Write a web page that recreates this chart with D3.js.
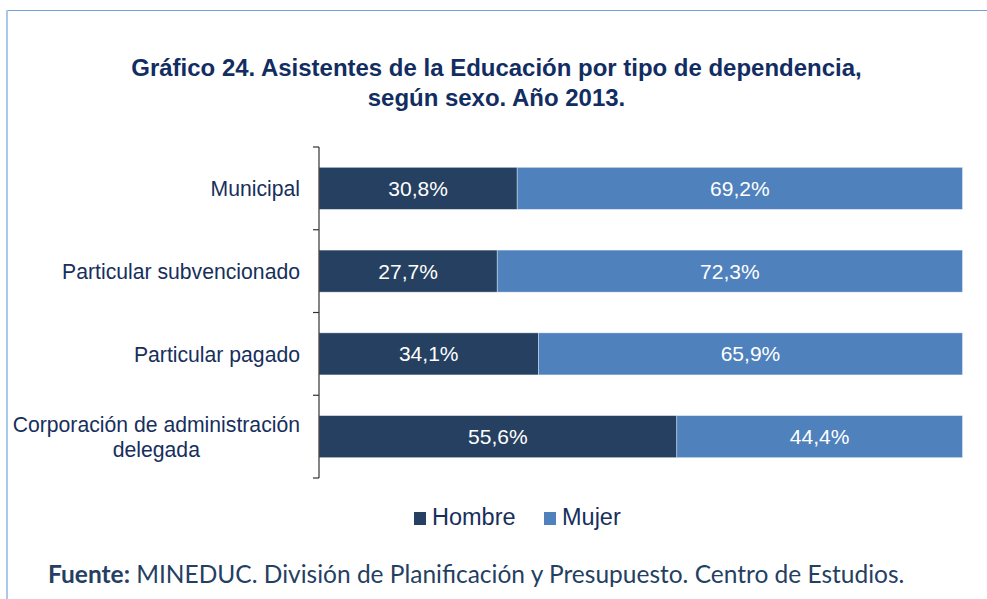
<!DOCTYPE html>
<html>
<head>
<meta charset="utf-8">
<script src="https://cdn.jsdelivr.net/npm/d3@7"></script>
<style>
  html, body { margin: 0; padding: 0; background: #fff; }
  svg { display: block; }
  .arial { font-family: Arial, "Liberation Sans", Helvetica, sans-serif; }
</style>
</head>
<body>
<div id="chart"></div>
<script>
'use strict';

const categories = ['Municipal', 'Particular subvencionado', 'Particular pagado', 'Corporación de administración delegada'];
const categoryLines = [['Municipal'], ['Particular subvencionado'], ['Particular pagado'], ['Corporación de administración', 'delegada']];
const hombre = [30.8, 27.7, 34.1, 55.6];
const mujer = [69.2, 72.3, 65.9, 44.4];
const seriesNames = ['Hombre', 'Mujer'];
const seriesColors = ['#264061', '#4f81bd'];

const W = 987, H = 599;
const plot = {left: 319, right: 962.5, top: 147, bottom: 478};

const svg = d3.select('#chart').append('svg')
    .attr('width', W)
    .attr('height', H);

// frame lines of the document box
svg.append('line')
    .attr('x1', 6).attr('x2', W).attr('y1', 10.5).attr('y2', 10.5)
    .attr('stroke', '#6fa0dc').attr('stroke-width', 1.2);
svg.append('line')
    .attr('x1', 7).attr('x2', 7).attr('y1', 10).attr('y2', H)
    .attr('stroke', '#a8c8ee').attr('stroke-width', 2);

// title
const title = svg.append('text')
    .attr('class', 'arial')
    .attr('text-anchor', 'middle')
    .attr('font-weight', 'bold')
    .attr('font-size', 20)
    .attr('fill', '#122d62');
let t1 = title.append('tspan').attr('x', 496.5).attr('y', 76)
    .text('Gráfico 24. Asistentes de la Educación por tipo de dependencia,');
title.append('tspan').attr('x', 496.5).attr('y', 106)
    .text('según sexo. Año 2013.');
let tw = t1.node().getComputedTextLength();
title.attr('font-size', 20 * 731 / tw);

const yScale = d3.scaleBand()
    .domain(categories)
    .range([plot.top, plot.bottom])
    .paddingInner(0.492)
    .paddingOuter(0.246);

const xScale = d3.scaleLinear()
    .domain([0, 100])
    .range([plot.left, plot.right]);

const rows = categories.map((c, i) => ({cat: c, lines: categoryLines[i], vals: [hombre[i], mujer[i]]}));

// bars
const g = svg.append('g');
rows.forEach(r => {
    let x0 = 0;
    r.vals.forEach((v, k) => {
        g.append('rect')
            .attr('x', xScale(x0))
            .attr('y', yScale(r.cat))
            .attr('width', xScale(x0 + v) - xScale(x0))
            .attr('height', yScale.bandwidth())
            .attr('fill', seriesColors[k])
            .attr('stroke', 'rgba(255,255,255,0.45)')
            .attr('stroke-width', 0.8);
        g.append('text')
            .attr('class', 'arial')
            .attr('x', (xScale(x0) + xScale(x0 + v)) / 2)
            .attr('y', yScale(r.cat) + yScale.bandwidth() / 2)
            .attr('dy', '0.36em')
            .attr('text-anchor', 'middle')
            .attr('font-size', 21)
            .attr('fill', '#ffffff')
            .text(v.toFixed(1).replace('.', ',') + '%');
        x0 += v;
    });
});

// y axis with ticks at band boundaries
const axis = svg.append('g');
axis.append('line')
    .attr('x1', plot.left).attr('x2', plot.left)
    .attr('y1', plot.top).attr('y2', plot.bottom)
    .attr('stroke', '#333').attr('stroke-width', 1.2);
const step = yScale.step();
d3.range(categories.length + 1).forEach(i => {
    let y = plot.top + i * step;
    axis.append('line')
        .attr('x1', plot.left - 6).attr('x2', plot.left)
        .attr('y1', y).attr('y2', y)
        .attr('stroke', '#333').attr('stroke-width', 1.2);
});

// category labels
rows.forEach(r => {
    let cy = yScale(r.cat) + yScale.bandwidth() / 2;
    let lh = 25;
    let t = svg.append('text')
        .attr('class', 'arial')
        .attr('text-anchor', 'middle')
        .attr('font-size', 21.2)
        .attr('fill', '#172f5c');
    r.lines.forEach((ln, j) => {
        t.append('tspan')
            .attr('x', 0)
            .attr('y', cy + (j - (r.lines.length - 1) / 2) * lh)
            .attr('dy', '0.36em')
            .text(ln);
    });
    // right-align the block, center lines within it
    let bw = t.node().getBBox().width;
    t.selectAll('tspan').attr('x', 300 - bw / 2);
});

// legend
const legend = svg.append('g');
const legendX = [414, 544];
seriesNames.forEach((s, k) => {
    legend.append('rect')
        .attr('x', legendX[k]).attr('y', 512)
        .attr('width', 12).attr('height', 13)
        .attr('fill', seriesColors[k]);
    legend.append('text')
        .attr('class', 'arial')
        .attr('x', legendX[k] + 18).attr('y', 525)
        .attr('font-size', 23.5)
        .attr('fill', '#172f5c')
        .text(s);
});

// source note
const src = svg.append('text')
    .attr('x', 48).attr('y', 583)
    .attr('font-family', 'Lato, "Open Sans", sans-serif')
    .attr('font-size', 22)
    .attr('fill', '#253f63');
src.append('tspan').attr('font-weight', 'bold').text('Fuente:');
src.append('tspan').text(' MINEDUC. División de Planificación y Presupuesto. Centro de Estudios.');
let sw = src.node().getComputedTextLength();
src.attr('font-size', 22 * 857 / sw);
</script>
</body>
</html>
